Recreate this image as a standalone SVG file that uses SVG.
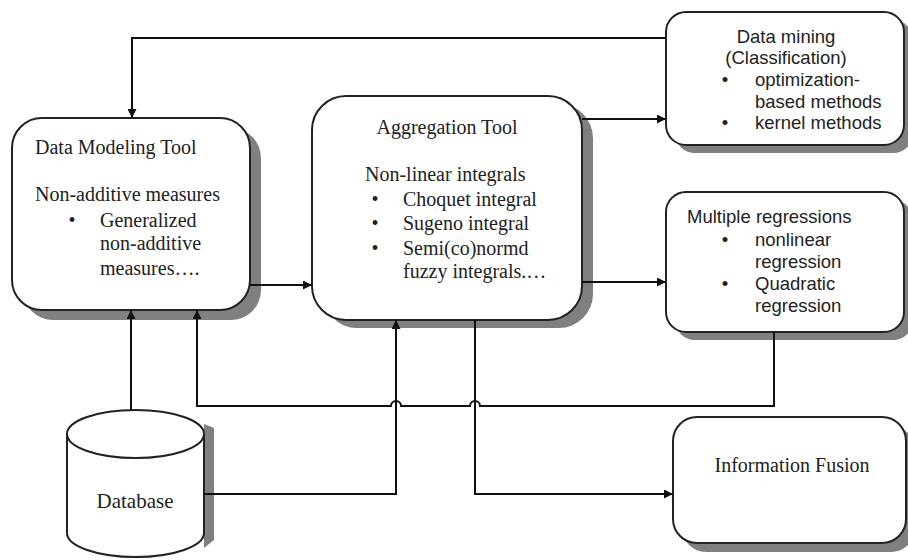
<svg xmlns="http://www.w3.org/2000/svg" width="908" height="560" viewBox="0 0 908 560">
<style>
.box{fill:#fff;stroke:#222;stroke-width:2}
.sh{fill:#808080;stroke:none}
.serif{font-family:"Liberation Serif","Times New Roman",serif;font-size:20px;fill:#222}
.sans{font-family:"Liberation Sans",Arial,sans-serif;font-size:18.5px;fill:#222}
.mid{text-anchor:middle}
.ln{fill:none;stroke:#111;stroke-width:2}
</style>
<defs>
<marker id="ah" viewBox="0 0 10 10" refX="10" refY="5" markerWidth="10" markerHeight="9" markerUnits="userSpaceOnUse" orient="auto">
<path d="M0,0 L10,5 L0,10 z" fill="#111"/>
</marker>
</defs>
<rect width="908" height="560" fill="#fff"/>

<g id="data-modeling-tool">
<rect class="sh" x="23" y="128" width="238" height="192" rx="30"/>
<rect class="box" x="12" y="118" width="238" height="192" rx="30"/>
<text class="serif" x="35" y="154">Data Modeling Tool</text>
<text class="serif" x="35" y="201">Non-additive measures</text>
<text class="serif mid" x="72" y="227">•</text>
<text class="serif" x="100" y="227">Generalized</text>
<text class="serif" x="100" y="250">non-additive</text>
<text class="serif" x="100" y="275">measures….</text>
</g>

<g id="aggregation-tool">
<rect class="sh" x="323" y="104" width="270" height="224" rx="34"/>
<rect class="box" x="312" y="96" width="270" height="224" rx="34"/>
<text class="serif mid" x="447" y="134">Aggregation Tool</text>
<text class="serif" x="365" y="181">Non-linear integrals</text>
<text class="serif mid" x="375" y="206">•</text>
<text class="serif" x="403" y="206">Choquet integral</text>
<text class="serif mid" x="375" y="230">•</text>
<text class="serif" x="403" y="230">Sugeno integral</text>
<text class="serif mid" x="375" y="255">•</text>
<text class="serif" x="403" y="255">Semi(co)normd</text>
<text class="serif" x="403" y="278">fuzzy integrals.…</text>
</g>

<g id="data-mining">
<rect class="sh" x="675" y="20" width="238" height="133" rx="20"/>
<rect class="box" x="666" y="12" width="238" height="133" rx="20"/>
<text class="sans mid" x="786" y="43">Data mining</text>
<text class="sans mid" x="786" y="64">(Classification)</text>
<text class="sans mid" x="725" y="86">•</text>
<text class="sans" x="755" y="86">optimization-</text>
<text class="sans" x="755" y="108">based methods</text>
<text class="sans mid" x="725" y="129">•</text>
<text class="sans" x="755" y="129">kernel methods</text>
</g>

<g id="multiple-regressions">
<rect class="sh" x="675" y="200" width="238" height="140" rx="20"/>
<rect class="box" x="666" y="192" width="238" height="140" rx="20"/>
<text class="sans" x="687" y="223">Multiple regressions</text>
<text class="sans mid" x="725" y="246">•</text>
<text class="sans" x="755" y="246">nonlinear</text>
<text class="sans" x="755" y="268">regression</text>
<text class="sans mid" x="725" y="290">•</text>
<text class="sans" x="755" y="290">Quadratic</text>
<text class="sans" x="755" y="312">regression</text>
</g>

<g id="information-fusion">
<rect class="sh" x="682" y="426" width="233" height="126" rx="24"/>
<rect class="box" x="673" y="417" width="233" height="126" rx="24"/>
<text class="serif mid" x="792" y="472">Information Fusion</text>
</g>

<g id="database">
<path class="sh" d="M204,424 L214,428 L214,540 L204,548 z"/>
<path class="box" d="M67,434 L67,533 A68.5,24 0 0 0 204,533 L204,434"/>
<ellipse class="box" cx="135.5" cy="434" rx="68.5" ry="24"/>
<text class="serif mid" x="135" y="508" style="font-size:21px">Database</text>
</g>

<g id="connectors">
<path class="ln" d="M666,38 L132,38 L132,118" marker-end="url(#ah)"/>
<path class="ln" d="M250,285 L312,285" marker-end="url(#ah)"/>
<path class="ln" d="M582,119 L666,119" marker-end="url(#ah)"/>
<path class="ln" d="M582,282 L666,282" marker-end="url(#ah)"/>
<path class="ln" d="M131,410 L131,310" marker-end="url(#ah)"/>
<path class="ln" d="M774,332 L774,406 L480,406 A5,5 0 0 0 470,406 L401,406 A5,5 0 0 0 391,406 L197,406 L197,310" marker-end="url(#ah)"/>
<path class="ln" d="M204,494 L396,494 L396,320" marker-end="url(#ah)"/>
<path class="ln" d="M475,320 L475,494 L673,494" marker-end="url(#ah)"/>
</g>
</svg>
